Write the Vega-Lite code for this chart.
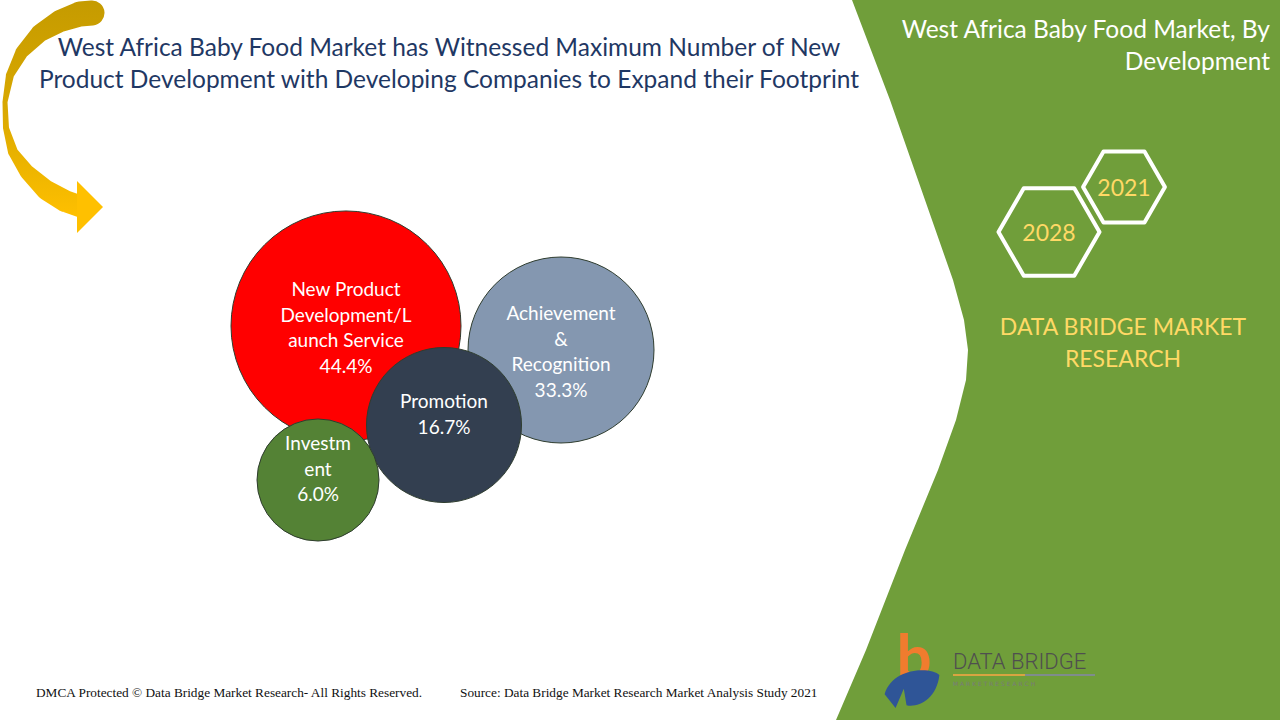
{
  "$schema": "https://vega.github.io/schema/vega-lite/v6.json",
  "width": 1280,
  "height": 720,
  "autosize": {"type": "none"},
  "padding": 0,
  "background": "white",
  "config": {"view": {"stroke": null}},
  "resolve": {"scale": {"size": "independent", "color": "independent"}},
  "datasets": {
    "bubbles": [
      {"category": "New Product Development/Launch Service", "label": "New Product|Development/L|aunch Service|44.4%", "share": 44.4, "x": 346, "y": 326},
      {"category": "Achievement & Recognition", "label": "Achievement|&|Recognition|33.3%", "share": 33.3, "x": 561, "y": 350},
      {"category": "Promotion", "label": "Promotion|16.7%", "share": 16.7, "x": 444, "y": 425},
      {"category": "Investment", "label": "Investm|ent|6.0%", "share": 6.0, "x": 318, "y": 480}
    ],
    "panel": [
      {"x": 852, "y": 0}, {"x": 890, "y": 100}, {"x": 925, "y": 200}, {"x": 953, "y": 280},
      {"x": 964, "y": 320}, {"x": 968, "y": 350}, {"x": 966, "y": 380}, {"x": 956, "y": 420},
      {"x": 938, "y": 470}, {"x": 905, "y": 550}, {"x": 866, "y": 650}, {"x": 836, "y": 720}
    ],
    "arrow": [
      {"i": 0, "x": 92, "y": 13, "w": 25}, {"i": 1, "x": 80, "y": 14, "w": 25},
      {"i": 2, "x": 60, "y": 21, "w": 22}, {"i": 3, "x": 40, "y": 33, "w": 18},
      {"i": 4, "x": 22, "y": 52, "w": 13}, {"i": 5, "x": 10, "y": 75, "w": 8},
      {"i": 6, "x": 5, "y": 102, "w": 5}, {"i": 7, "x": 6, "y": 128, "w": 6},
      {"i": 8, "x": 13, "y": 152, "w": 10}, {"i": 9, "x": 27, "y": 172, "w": 15},
      {"i": 10, "x": 46, "y": 190, "w": 20}, {"i": 11, "x": 65, "y": 201, "w": 22},
      {"i": 12, "x": 82, "y": 207, "w": 22}
    ],
    "years": [
      {"year": "2028", "x": 1049, "y": 232},
      {"year": "2021", "x": 1124, "y": 187}
    ]
  },
  "layer": [
    {
      "data": {"name": "panel"},
      "mark": {"type": "area", "orient": "horizontal", "color": "#709E3A"},
      "encoding": {
        "y": {"field": "y", "type": "quantitative", "scale": {"domain": [0, 720], "reverse": true, "nice": false, "zero": false}, "axis": null},
        "x": {"field": "x", "type": "quantitative", "scale": {"domain": [0, 1280], "nice": false, "zero": false}, "axis": null},
        "x2": {"datum": 1280}
      }
    },
    {
      "data": {"name": "arrow"},
      "mark": {"type": "trail", "color": {"gradient": "linear", "x1": 0, "y1": 0, "x2": 0, "y2": 1, "stops": [{"offset": 0, "color": "#C59B00"}, {"offset": 0.5, "color": "#D9A800"}, {"offset": 1, "color": "#FFC000"}]}},
      "encoding": {
        "x": {"field": "x", "type": "quantitative", "axis": null},
        "y": {"field": "y", "type": "quantitative", "axis": null},
        "order": {"field": "i", "type": "quantitative"},
        "size": {"field": "w", "type": "quantitative", "scale": {"type": "linear", "domain": [0, 25], "range": [0, 25]}, "legend": null}
      }
    },
    {
      "data": {"values": [{"x": 90, "y": 207}]},
      "mark": {"type": "point", "shape": "M-1,-2L1,0L-1,2Z", "filled": true, "color": "#FFC000", "opacity": 1, "size": 676},
      "encoding": {
        "x": {"field": "x", "type": "quantitative", "axis": null},
        "y": {"field": "y", "type": "quantitative", "axis": null}
      }
    },
    {
      "data": {"values": [{"t": "West Africa Baby Food Market has Witnessed Maximum Number of New|Product Development with Developing Companies to Expand their Footprint", "x": 449, "y": 49}]},
      "mark": {"type": "text", "font": "Lato", "fontSize": 24.5, "color": "#1F3864", "lineBreak": "|", "lineHeight": 32, "align": "center", "baseline": "middle"},
      "encoding": {
        "x": {"field": "x", "type": "quantitative", "axis": null},
        "y": {"field": "y", "type": "quantitative", "axis": null},
        "text": {"field": "t"}
      }
    },
    {
      "data": {"values": [{"t": "West Africa Baby Food Market, By|Development", "x": 1270, "y": 31}]},
      "mark": {"type": "text", "font": "Lato", "fontSize": 24.5, "color": "white", "lineBreak": "|", "lineHeight": 32, "align": "right", "baseline": "middle"},
      "encoding": {
        "x": {"field": "x", "type": "quantitative", "axis": null},
        "y": {"field": "y", "type": "quantitative", "axis": null},
        "text": {"field": "t"}
      }
    },
    {
      "data": {"name": "years"},
      "mark": {"type": "point", "shape": "M-1,0L-0.5,-0.866L0.5,-0.866L1,0L0.5,0.866L-0.5,0.866Z", "filled": false, "stroke": "white", "strokeWidth": 4, "strokeJoin": "round", "opacity": 1},
      "encoding": {
        "x": {"field": "x", "type": "quantitative", "axis": null},
        "y": {"field": "y", "type": "quantitative", "axis": null},
        "size": {"field": "year", "type": "nominal", "scale": {"domain": ["2028", "2021"], "range": [10200, 6700]}, "legend": null}
      }
    },
    {
      "data": {"name": "years"},
      "mark": {"type": "text", "font": "Lato", "fontSize": 23, "color": "#FFD966", "align": "center", "baseline": "middle", "dy": 2},
      "encoding": {
        "x": {"field": "x", "type": "quantitative", "axis": null},
        "y": {"field": "y", "type": "quantitative", "axis": null},
        "text": {"field": "year"}
      }
    },
    {
      "data": {"values": [{"t": "DATA BRIDGE MARKET|RESEARCH", "x": 1123, "y": 328}]},
      "mark": {"type": "text", "font": "Lato", "fontSize": 23, "color": "#FFD966", "lineBreak": "|", "lineHeight": 32, "align": "center", "baseline": "middle"},
      "encoding": {
        "x": {"field": "x", "type": "quantitative", "axis": null},
        "y": {"field": "y", "type": "quantitative", "axis": null},
        "text": {"field": "t"}
      }
    },
    {
      "data": {"name": "bubbles"},
      "mark": {"type": "point", "shape": "circle", "filled": true, "opacity": 1, "stroke": "#2F3D2F", "strokeWidth": 1},
      "encoding": {
        "x": {"field": "x", "type": "quantitative", "axis": null},
        "y": {"field": "y", "type": "quantitative", "axis": null},
        "size": {"field": "share", "type": "quantitative", "scale": {"type": "linear", "domain": [6.0, 16.7, 33.3, 44.4], "range": [14884, 24025, 34596, 52900]}, "legend": null},
        "color": {"field": "category", "type": "nominal", "scale": {"domain": ["New Product Development/Launch Service", "Achievement & Recognition", "Promotion", "Investment"], "range": ["#FF0000", "#8497B0", "#333F50", "#548235"]}, "legend": null}
      }
    },
    {
      "data": {"name": "bubbles"},
      "transform": [{"filter": "datum.category !== 'Promotion'"}],
      "mark": {"type": "text", "font": "Lato", "fontSize": 19, "color": "white", "lineBreak": "|", "lineHeight": 25.5, "align": "center", "baseline": "middle", "dy": -36},
      "encoding": {
        "x": {"field": "x", "type": "quantitative", "axis": null},
        "y": {"field": "y", "type": "quantitative", "axis": null},
        "text": {"field": "label"}
      }
    },
    {
      "data": {"name": "bubbles"},
      "transform": [{"filter": "datum.category === 'Promotion'"}],
      "mark": {"type": "text", "font": "Lato", "fontSize": 19, "color": "white", "lineBreak": "|", "lineHeight": 25.5, "align": "center", "baseline": "middle", "dy": -23},
      "encoding": {
        "x": {"field": "x", "type": "quantitative", "axis": null},
        "y": {"field": "y", "type": "quantitative", "axis": null},
        "text": {"field": "label"}
      }
    },
    {
      "data": {"values": [
        {"t": "DMCA Protected © Data Bridge Market Research- All Rights Reserved.", "x": 36, "y": 693},
        {"t": "Source: Data Bridge Market Research Market Analysis Study 2021", "x": 460, "y": 693}
      ]},
      "mark": {"type": "text", "font": "Liberation Serif", "fontSize": 13.3, "color": "#111111", "align": "left", "baseline": "middle"},
      "encoding": {
        "x": {"field": "x", "type": "quantitative", "axis": null},
        "y": {"field": "y", "type": "quantitative", "axis": null},
        "text": {"field": "t"}
      }
    },
    {
      "data": {"values": [{"t": "b", "x": 914, "y": 660}]},
      "mark": {"type": "text", "font": "Lato", "fontWeight": "bold", "fontSize": 62, "color": "#F07C2E", "align": "center", "baseline": "middle"},
      "encoding": {
        "x": {"field": "x", "type": "quantitative", "axis": null},
        "y": {"field": "y", "type": "quantitative", "axis": null},
        "text": {"field": "t"}
      }
    },
    {
      "data": {"values": [{"x": 912, "y": 686}]},
      "mark": {"type": "point", "shape": "M-1,0.3C-0.7,-0.7 0.7,-0.7 1,-0.4C0.9,0.5 0.2,0.8 -0.2,0.7L-0.3,0.1L-0.6,0.8Z", "filled": true, "color": "#2F5597", "opacity": 1, "size": 3000},
      "encoding": {
        "x": {"field": "x", "type": "quantitative", "axis": null},
        "y": {"field": "y", "type": "quantitative", "axis": null}
      }
    },
    {
      "data": {"values": [{"t": "DATA BRIDGE", "x": 953, "y": 662}]},
      "mark": {"type": "text", "font": "Roboto", "fontWeight": 300, "fontSize": 22, "color": "#4F4F4F", "align": "left", "baseline": "middle"},
      "encoding": {
        "x": {"field": "x", "type": "quantitative", "axis": null},
        "y": {"field": "y", "type": "quantitative", "axis": null},
        "text": {"field": "t"}
      }
    },
    {
      "data": {"values": [{"x": 953, "x2": 1025, "y": 675}]},
      "mark": {"type": "rule", "strokeWidth": 2, "color": "#D9A441"},
      "encoding": {
        "x": {"field": "x", "type": "quantitative", "axis": null},
        "x2": {"field": "x2"},
        "y": {"field": "y", "type": "quantitative", "axis": null}
      }
    },
    {
      "data": {"values": [{"x": 1025, "x2": 1095, "y": 675}]},
      "mark": {"type": "rule", "strokeWidth": 2, "color": "#7F8C8D"},
      "encoding": {
        "x": {"field": "x", "type": "quantitative", "axis": null},
        "x2": {"field": "x2"},
        "y": {"field": "y", "type": "quantitative", "axis": null}
      }
    },
    {
      "data": {"values": [{"t": "M A R K E T     R E S E A R C H", "x": 953, "y": 684}]},
      "mark": {"type": "text", "font": "DejaVu Sans", "fontSize": 6, "color": "#7A7A7A", "align": "left", "baseline": "middle"},
      "encoding": {
        "x": {"field": "x", "type": "quantitative", "axis": null},
        "y": {"field": "y", "type": "quantitative", "axis": null},
        "text": {"field": "t"}
      }
    }
  ]
}
